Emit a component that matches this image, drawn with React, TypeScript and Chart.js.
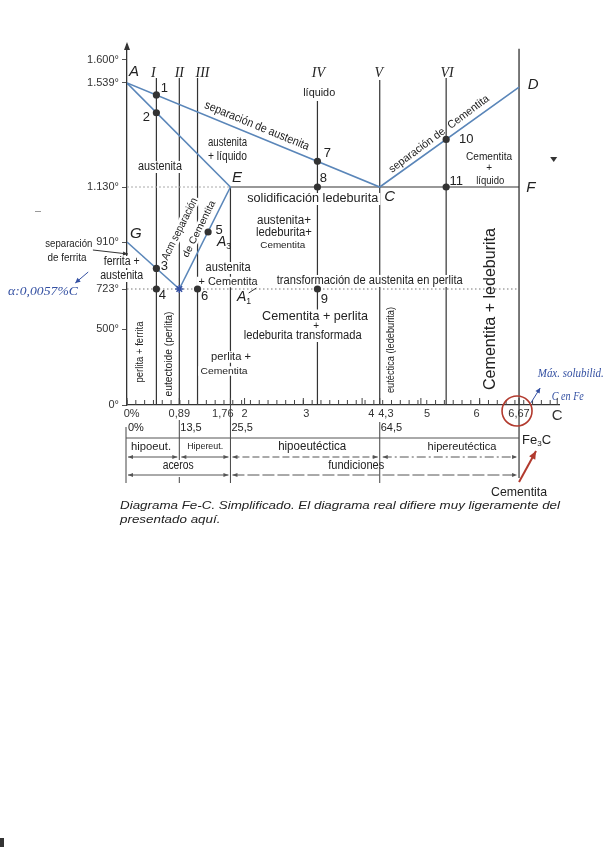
import React, { useEffect, useRef } from "react";
import { Chart, registerables } from "chart.js";

Chart.register(...registerables);

const SANS = '"Liberation Sans", Arial, Helvetica, sans-serif';
const SERIF = '"Liberation Serif", "Times New Roman", serif';
const INK = "#222";
const BLUE_LINE = "#5a86b9";
const PEN_BLUE = "#3450a2";
const RED = "#b23a2e";

// ---------------- axes ----------------
const TEMP_TICKS = [0, 500, 723, 910, 1130, 1539, 1600];
const TEMP_TICK_LABELS = ["0°", "500°", "723°", "910°", "1.130°", "1.539°", "1.600°"];
// the original (schematic) diagram is not to scale: drawing height of each temperature
const TEMP_AXIS_UNITS = [0, 76, 116, 163, 218, 322, 345];

const CARBON_TICKS = [0, 0.89, 1.76, 2, 3, 4, 4.3, 5, 6, 6.67, 7.32];
const CARBON_TICK_LABELS = ["0%", "0,89", "1,76", "2", "3", "4", "4,3", "5", "6", "6,67", "C"];
// the printed labels sit slightly off their ticks on the scan (padding with spaces)
const CARBON_LABEL_PAD_LEFT = [3, 0, 0, 0, 2, 6, 4, 4, 0, 0, 0];
const CARBON_LABEL_PAD_RIGHT = [0, 0, 5, 0, 0, 0, 0, 0, 2, 0, 0];
const CEMENTITE_PCT_C = [0, 0.89, 1.76, 4.3];
const CEMENTITE_PCT_LABELS = ["0%", "13,5", "25,5", "64,5"];

// ---------------- phase lines ----------------
const LIQUIDUS_C = [0, 4.3, 6.67]; // A - C - D
const LIQUIDUS_T = [1539, 1130, 1523];
const SOLIDUS_C = [0, 1.76]; // A - E
const SOLIDUS_T = [1539, 1130];
const ACM_C = [1.76, 0.89]; // E - S
const ACM_T = [1130, 723];
const A3_C = [0, 0.89]; // G - S
const A3_T = [910, 723];
const EUTECTIC_C = [1.76, 6.67]; // E - F
const EUTECTIC_T = [1130, 1130];
const EUTECTOID_C = [0, 6.67];
const EUTECTOID_T = [723, 723];
const GUIDE_1130_C = [0, 1.76];
const GUIDE_1130_T = [1130, 1130];
const STEEL_LIMIT_C = [1.76, 1.76];
const STEEL_LIMIT_T = [1130, 0];
const CEMENTITE_LINE_C = [6.67, 6.67];
const CEMENTITE_LINE_T = [1630, 0];

// alloys I..VI
const ALLOY_NAMES = ["I", "II", "III", "IV", "V", "VI"];
const ALLOY_C = [0.5, 0.89, 1.2, 3.24, 4.3, 5.43];
const ALLOY_TOP_T = [1552, 1552, 1552, 1468, 1547, 1552];

// numbered points
const POINT_LABELS = ["1", "2", "3", "4", "5", "6", "7", "8", "9", "10", "11"];
const POINT_C = [0.5, 0.5, 0.5, 0.5, 1.38, 1.2, 3.24, 3.24, 3.24, 5.43, 5.43];
const POINT_T = [1492, 1422, 805, 723, 950, 723, 1231, 1130, 723, 1317, 1130];
const EUTECTOID_POINT_C = [0.89];
const EUTECTOID_POINT_T = [723];

// ---------------- label layout (px offsets / positions in axis units) ----------------
const POINT_LABEL_DX = [8, -10, 8, 6, 11, 7, 10, 6, 7, 20, 10];
const POINT_LABEL_DY = [-7, 5, -2, 6, -2, 7, -8, -9, 10, 0, -6];
const ALLOY_LABEL_DX = [-3, 0, 5, 1, -1, 1];

type Lbl = {
  t: string; c: number; u: number; size: number; w?: number; rot?: number;
  bg?: boolean; italic?: boolean; serif?: boolean; color?: string;
};

const REGION_LABELS: Lbl[] = [
  { t: "austenita", c: 0.56, u: 238, size: 12, w: 44, bg: true },
  { t: "austenita", c: 1.71, u: 262, size: 12, w: 39 },
  { t: "+ líquido", c: 1.71, u: 248, size: 12, w: 39 },
  { t: "separación de austenita", c: 2.21, u: 279, size: 12, w: 112, rot: 22.3 },
  { t: "líquido", c: 3.27, u: 312, size: 11, w: 32, bg: true },
  { t: "separación de  Cementita", c: 5.31, u: 271, size: 11, w: 122, rot: -36.7 },
  { t: "Cementita", c: 6.16, u: 248, size: 10, w: 46 },
  { t: "+", c: 6.16, u: 237, size: 10 },
  { t: "líquido", c: 6.18, u: 224, size: 10, w: 28 },
  { t: "solidificación ledeburita", c: 3.16, u: 206, size: 12, w: 131, bg: true },
  { t: "austenita+", c: 2.67, u: 184, size: 12, w: 54 },
  { t: "ledeburita+", c: 2.67, u: 172, size: 12, w: 56 },
  { t: "Cementita", c: 2.65, u: 160, size: 9.5, w: 45 },
  { t: "austenita", c: 1.72, u: 137, size: 12, w: 45, bg: true },
  { t: "+ Cementita", c: 1.72, u: 123, size: 10.5, w: 59, bg: true },
  { t: "transformación de austenita en perlita", c: 4.13, u: 124, size: 12, w: 186, bg: true },
  { t: "Cementita + perlita", c: 3.2, u: 89, size: 13, w: 106, bg: true },
  { t: "+", c: 3.22, u: 79, size: 10, bg: true },
  { t: "ledeburita transformada", c: 2.99, u: 69, size: 12, w: 118, bg: true },
  { t: "perlita +", c: 1.77, u: 48, size: 11.5, w: 40, bg: true },
  { t: "Cementita", c: 1.65, u: 34, size: 9.5, w: 47, bg: true },
  { t: "perlita + ferrita", c: 0.22, u: 53, size: 11, w: 61, rot: -90 },
  { t: "eutectoide (perlita)", c: 0.71, u: 51, size: 11, w: 85, rot: -90 },
  { t: "eutéctica (ledeburita)", c: 4.49, u: 55, size: 10.5, w: 86, rot: -90 },
  { t: "Cementita + ledeburita", c: 6.18, u: 96, size: 16, w: 162, rot: -90 },
  { t: "Acm separación", c: 0.9, u: 176, size: 11, w: 68, rot: -63.4, bg: true },
  { t: "de Cementita", c: 1.23, u: 176, size: 10, w: 62, rot: -63.4, bg: true },
  { t: "separación", c: -0.99, u: 161, size: 11, w: 47 },
  { t: "de ferrita", c: -1.02, u: 147, size: 11, w: 39 },
  { t: "ferrita +", c: -0.09, u: 143, size: 12, w: 36, bg: true },
  { t: "austenita", c: -0.09, u: 129, size: 12, w: 43, bg: true },
  { t: "A", c: 0.12, u: 333, size: 15, italic: true },
  { t: "D", c: 6.91, u: 320, size: 15, italic: true },
  { t: "E", c: 1.87, u: 227, size: 15, italic: true },
  { t: "F", c: 6.87, u: 217, size: 15, italic: true },
  { t: "C", c: 4.47, u: 208, size: 15, italic: true },
  { t: "G", c: 0.15, u: 171, size: 15, italic: true },
  { t: "α:0,0057%C", c: -1.43, u: 113, size: 13, w: 70, italic: true, serif: true, color: PEN_BLUE },
  { t: "Máx. solubilid.", c: 7.55, u: 31, size: 12.5, w: 66, italic: true, serif: true, color: PEN_BLUE },
  { t: "C en Fe", c: 7.5, u: 8, size: 12.5, w: 32, italic: true, serif: true, color: PEN_BLUE },
];

function toU(t: number): number {
  const T = TEMP_TICKS;
  const U = TEMP_AXIS_UNITS;
  let i = 0;
  if (t >= T[T.length - 1]) i = T.length - 2;
  else if (t > T[0]) {
    while (t > T[i + 1]) i++;
  }
  return U[i] + ((t - T[i]) * (U[i + 1] - U[i])) / (T[i + 1] - T[i]);
}

const pts = (cs: number[], ts: number[]) => cs.map((c, i) => ({ x: c, y: toU(ts[i]) }));

function lineDs(data: any[], color: string, width: number, order: number, dash: number[] = []) {
  return {
    data,
    showLine: true,
    borderColor: color,
    borderWidth: width,
    borderDash: dash,
    pointRadius: 0,
    pointHoverRadius: 0,
    fill: false,
    tension: 0,
    order,
  };
}

function drawLabel(ctx: CanvasRenderingContext2D, l: Lbl, x: number, y: number) {
  ctx.save();
  ctx.translate(x, y);
  if (l.rot) ctx.rotate((l.rot * Math.PI) / 180);
  ctx.font = `${l.italic ? "italic " : ""}${l.size}px ${l.serif ? SERIF : SANS}`;
  ctx.textAlign = "center";
  ctx.textBaseline = "middle";
  const nat = ctx.measureText(l.t).width;
  if (l.w) {
    const sx = Math.max(0.65, Math.min(1.2, l.w / nat));
    ctx.scale(sx, 1);
  }
  if (l.bg) {
    ctx.fillStyle = "#fff";
    ctx.fillRect(-nat / 2 - 2, -l.size * 0.5, nat + 4, l.size * 1.0);
  }
  ctx.fillStyle = l.color || INK;
  ctx.fillText(l.t, 0, 0);
  ctx.restore();
}

function subText(ctx: CanvasRenderingContext2D, main: string, sub: string, x: number, y: number, size: number, italic: boolean, after = "") {
  ctx.save();
  ctx.fillStyle = INK;
  ctx.textBaseline = "middle";
  ctx.textAlign = "left";
  ctx.font = `${italic ? "italic " : ""}${size}px ${SANS}`;
  ctx.fillText(main, x, y);
  let w = ctx.measureText(main).width;
  ctx.font = `${size * 0.62}px ${SANS}`;
  ctx.fillText(sub, x + w, y + size * 0.32);
  w += ctx.measureText(sub).width;
  if (after) {
    ctx.font = `${italic ? "italic " : ""}${size}px ${SANS}`;
    ctx.fillText(after, x + w, y);
  }
  ctx.restore();
}

function arrowHead(ctx: CanvasRenderingContext2D, x1: number, y1: number, x2: number, y2: number, size = 5, half = 2) {
  const a = Math.atan2(y2 - y1, x2 - x1);
  ctx.beginPath();
  ctx.moveTo(x2, y2);
  ctx.lineTo(x2 - size * Math.cos(a) + half * Math.sin(a), y2 - size * Math.sin(a) - half * Math.cos(a));
  ctx.lineTo(x2 - size * Math.cos(a) - half * Math.sin(a), y2 - size * Math.sin(a) + half * Math.cos(a));
  ctx.closePath();
  ctx.fill();
}

function arrow(ctx: CanvasRenderingContext2D, x1: number, y1: number, x2: number, y2: number, o: { both?: boolean; dash?: number[]; color?: string; width?: number; size?: number; half?: number } = {}) {
  ctx.save();
  ctx.strokeStyle = o.color || "#555";
  ctx.fillStyle = o.color || "#555";
  ctx.lineWidth = o.width || 1;
  ctx.setLineDash(o.dash || []);
  ctx.beginPath();
  ctx.moveTo(x1, y1);
  ctx.lineTo(x2, y2);
  ctx.stroke();
  ctx.setLineDash([]);
  arrowHead(ctx, x1, y1, x2, y2, o.size || 5, o.half || 2);
  if (o.both) arrowHead(ctx, x2, y2, x1, y1, o.size || 5, o.half || 2);
  ctx.restore();
}

function vline(ctx: CanvasRenderingContext2D, x: number, y1: number, y2: number, color = "#333", w = 1.2) {
  ctx.save();
  ctx.strokeStyle = color;
  ctx.lineWidth = w;
  ctx.beginPath();
  ctx.moveTo(x, y1);
  ctx.lineTo(x, y2);
  ctx.stroke();
  ctx.restore();
}

const diagramPlugin = {
  id: "feC",
  beforeDatasetDraw(chart: any, args: any) {
    if (args.index !== 1) return;
    const ctx: CanvasRenderingContext2D = chart.ctx;
    const xs = chart.scales.x;
    const ys = chart.scales.y;
    for (const l of REGION_LABELS) drawLabel(ctx, l, xs.getPixelForValue(l.c), ys.getPixelForValue(l.u));
    ALLOY_NAMES.forEach((n, i) => {
      drawLabel(ctx, { t: n, c: 0, u: 0, size: 14, italic: true, serif: true }, xs.getPixelForValue(ALLOY_C[i]) + ALLOY_LABEL_DX[i], ys.getPixelForValue(332));
    });
    POINT_LABELS.forEach((n, i) => {
      const x = xs.getPixelForValue(POINT_C[i]) + POINT_LABEL_DX[i];
      const y = ys.getPixelForValue(toU(POINT_T[i])) + POINT_LABEL_DY[i];
      drawLabel(ctx, { t: n, c: 0, u: 0, size: 13 }, x, y);
    });
    subText(ctx, "A", "3", xs.getPixelForValue(1.53), ys.getPixelForValue(163), 14, true);
    subText(ctx, "A", "1", xs.getPixelForValue(1.87), ys.getPixelForValue(108), 14, true);
    ctx.save();
    ctx.strokeStyle = "#333";
    ctx.lineWidth = 1;
    ctx.beginPath();
    ctx.moveTo(xs.getPixelForValue(2.07), ys.getPixelForValue(112));
    ctx.lineTo(xs.getPixelForValue(2.2), ys.getPixelForValue(117));
    ctx.stroke();
    ctx.restore();
  },
  afterDraw(chart: any) {
    const ctx: CanvasRenderingContext2D = chart.ctx;
    const xs = chart.scales.x;
    const ys = chart.scales.y;
    const area = chart.chartArea;
    const B = area.bottom;
    const X = (c: number) => xs.getPixelForValue(c);

    // y axis arrow
    ctx.save();
    ctx.fillStyle = "#333";
    ctx.beginPath();
    ctx.moveTo(area.left, area.top - 3);
    ctx.lineTo(area.left - 3, area.top + 5);
    ctx.lineTo(area.left + 3, area.top + 5);
    ctx.closePath();
    ctx.fill();
    ctx.restore();

    // minor ticks on x axis (upwards)
    ctx.save();
    ctx.strokeStyle = "#444";
    ctx.lineWidth = 1;
    for (let c = 0; c <= 7.25; c += 0.15) {
      ctx.beginPath();
      ctx.moveTo(X(c), B);
      ctx.lineTo(X(c), B - 5);
      ctx.stroke();
    }
    for (const c of CARBON_TICKS) {
      ctx.beginPath();
      ctx.moveTo(X(c), B);
      ctx.lineTo(X(c), B - 7);
      ctx.stroke();
    }
    ctx.restore();

    // cementite % row
    ctx.save();
    ctx.fillStyle = INK;
    ctx.font = `11px ${SANS}`;
    ctx.textBaseline = "middle";
    ctx.textAlign = "left";
    CEMENTITE_PCT_C.forEach((c, i) => ctx.fillText(CEMENTITE_PCT_LABELS[i], X(c) + 1, B + 23));
    ctx.restore();

    // frame lines below axis
    vline(ctx, X(0) - 1, B + 22, B + 78, "#444", 1);
    vline(ctx, X(0.89), B + 15, B + 55, "#444", 1);
    vline(ctx, X(0.89), B + 72, B + 78, "#444", 1);
    vline(ctx, X(1.76), B, B + 78, "#444", 1);
    vline(ctx, X(4.3), B + 17, B + 78, "#444", 1);
    vline(ctx, X(6.67), B, B + 73, "#333", 1.2);
    ctx.save();
    ctx.strokeStyle = "#555";
    ctx.lineWidth = 1;
    ctx.beginPath();
    ctx.moveTo(X(0) - 1, B + 33);
    ctx.lineTo(X(6.67), B + 33);
    ctx.stroke();
    ctx.restore();

    const rowLbl = (t: string, c: number, dy: number, size: number, w?: number) =>
      drawLabel(ctx, { t, c: 0, u: 0, size, w }, X(c), B + dy);
    rowLbl("hipoeut.", 0.41, 42, 11.5, 40);
    rowLbl("Hipereut.", 1.33, 42, 8.5, 36);
    rowLbl("hipoeutéctica", 3.15, 42, 12, 68);
    rowLbl("hipereutéctica", 5.7, 42, 11.5, 69);
    rowLbl("aceros", 0.87, 61, 12, 31);
    rowLbl("fundiciones", 3.9, 61, 12, 56);
    subText(ctx, "Fe", "3", X(6.67) + 3, B + 35, 13, false, "C");

    arrow(ctx, X(0) + 1, B + 52, X(0.89) - 2, B + 52, { both: true });
    arrow(ctx, X(0.89) + 2, B + 52, X(1.76) - 2, B + 52, { both: true });
    arrow(ctx, X(1.76) + 2, B + 52, X(4.3) - 2, B + 52, { both: true, dash: [7, 3] });
    arrow(ctx, X(4.3) + 3, B + 52, X(6.67) - 2, B + 52, { both: true, dash: [9, 3, 2, 3] });
    arrow(ctx, X(0) + 1, B + 70, X(1.76) - 2, B + 70, { both: true });
    arrow(ctx, X(1.76) + 2, B + 70, X(6.67) - 2, B + 70, { both: true, dash: [12, 3] });

    rowLbl("Cementita", 6.67, 87, 13, 56);

    // caption
    ctx.save();
    ctx.fillStyle = INK;
    ctx.font = `italic 11.5px ${SANS}`;
    ctx.textBaseline = "middle";
    ctx.textAlign = "left";
    const cap1 = "Diagrama Fe-C. Simplificado. El diagrama real difiere muy ligeramente del";
    const w1 = ctx.measureText(cap1).width;
    ctx.save();
    ctx.translate(X(0) - 7, B + 101);
    ctx.scale(440 / w1, 1);
    ctx.fillText(cap1, 0, 0);
    ctx.restore();
    ctx.save();
    ctx.translate(X(0) - 7, B + 115);
    ctx.scale(440 / w1, 1);
    ctx.fillText("presentado aquí.", 0, 0);
    ctx.restore();
    ctx.restore();

    // separación de ferrita arrow
    arrow(ctx, X(-0.58), ys.getPixelForValue(155), X(0) + 1, ys.getPixelForValue(151), { color: "#333", size: 5, half: 2 });

    // red marks
    ctx.save();
    ctx.strokeStyle = RED;
    ctx.lineWidth = 1.6;
    ctx.beginPath();
    ctx.arc(X(6.67) - 2, B + 6, 15, 0, Math.PI * 2);
    ctx.stroke();
    ctx.restore();
    arrow(ctx, X(6.67), B + 77, X(6.67) + 17, B + 46, { color: RED, width: 2, size: 8, half: 3.5 });

    // pen annotations
    arrow(ctx, X(-0.66), ys.getPixelForValue(133), X(-0.88), ys.getPixelForValue(122), { color: PEN_BLUE, size: 5, half: 2.5 });
    arrow(ctx, X(6.87), B - 2, X(7.03), B - 17, { color: PEN_BLUE, size: 5, half: 2.5 });

    // scan specks
    ctx.save();
    ctx.fillStyle = "#333";
    ctx.beginPath();
    ctx.moveTo(X(7.2), ys.getPixelForValue(248));
    ctx.lineTo(X(7.26), ys.getPixelForValue(243));
    ctx.lineTo(X(7.32), ys.getPixelForValue(248));
    ctx.closePath();
    ctx.fill();
    ctx.fillRect(0, 838, 4, 9);
    ctx.fillStyle = "#999";
    ctx.fillRect(35, 211, 6, 1);
    ctx.restore();
  },
};

export default function App() {
  const ref = useRef<HTMLCanvasElement>(null);
  useEffect(() => {
    const canvas = ref.current!;
    const datasets: any[] = [
      {
        data: pts(EUTECTOID_POINT_C, EUTECTOID_POINT_T),
        pointStyle: "star",
        pointRadius: 4,
        borderColor: PEN_BLUE,
        backgroundColor: PEN_BLUE,
        borderWidth: 1.5,
        order: 0,
      },
      {
        data: pts(POINT_C, POINT_T),
        pointRadius: 3.6,
        backgroundColor: "#333",
        borderColor: "#333",
        borderWidth: 0,
        order: 0,
      },
      lineDs(pts(LIQUIDUS_C, LIQUIDUS_T), BLUE_LINE, 1.6, 1),
      lineDs(pts(SOLIDUS_C, SOLIDUS_T), BLUE_LINE, 1.6, 1),
      lineDs(pts(ACM_C, ACM_T), BLUE_LINE, 1.6, 1),
      lineDs(pts(A3_C, A3_T), BLUE_LINE, 1.6, 1),
      lineDs(pts(EUTECTIC_C, EUTECTIC_T), "#333", 1.2, 2),
      lineDs(pts(EUTECTOID_C, EUTECTOID_T), "#777", 1.1, 2, [1.5, 2.5]),
      lineDs(pts(GUIDE_1130_C, GUIDE_1130_T), "#aaa", 1, 2, [2, 2]),
      lineDs(pts(STEEL_LIMIT_C, STEEL_LIMIT_T), "#333", 1.2, 2),
      lineDs(pts(CEMENTITE_LINE_C, CEMENTITE_LINE_T), "#333", 1.3, 2),
      ...ALLOY_C.map((c, i) => lineDs(pts([c, c], [ALLOY_TOP_T[i], 0]), "#333", 1.2, 2)),
    ];
    const chart = new Chart(canvas, {
      type: "scatter",
      data: { datasets },
      plugins: [diagramPlugin],
      options: {
        animation: false,
        responsive: false,
        devicePixelRatio: 1,
        events: [],
        layout: { padding: { left: 0, right: 45, top: 45, bottom: 0 } },
        plugins: { legend: { display: false }, tooltip: { enabled: false } },
        scales: {
          x: {
            type: "linear",
            min: 0,
            max: 7.35,
            afterFit: (s: any) => {
              s.height = 443;
            },
            afterBuildTicks: (s: any) => {
              s.ticks = CARBON_TICKS.map((v) => ({ value: v }));
            },
            ticks: {
              autoSkip: false,
              maxRotation: 0,
              minRotation: 0,
              padding: 2,
              color: "#333",
              font: (c: any) => ({ family: SANS, size: c.index === CARBON_TICKS.length - 1 ? 15 : 11 }),
              callback: (_v: any, i: number) =>
                " ".repeat(CARBON_LABEL_PAD_LEFT[i]) + CARBON_TICK_LABELS[i] + " ".repeat(CARBON_LABEL_PAD_RIGHT[i]),
            },
            grid: { display: false, drawTicks: false },
            border: { display: true, color: "#333", width: 1.3 },
          },
          y: {
            type: "linear",
            min: 0,
            max: 360,
            afterFit: (s: any) => {
              s.width = 127;
            },
            afterBuildTicks: (s: any) => {
              s.ticks = TEMP_TICKS.map((t) => ({ value: toU(t) }));
            },
            ticks: {
              autoSkip: false,
              padding: 3,
              color: "#333",
              font: { family: SANS, size: 11 },
              callback: (_v: any, i: number) => TEMP_TICK_LABELS[i],
            },
            grid: { display: true, drawOnChartArea: false, drawTicks: true, tickLength: 5, color: "#555", tickColor: "#555" },
            border: { display: true, color: "#333", width: 1.3 },
          },
        },
      } as any,
    });
    return () => chart.destroy();
  }, []);
  return (
    <div style={{ position: "absolute", left: 0, top: 0, width: 604, height: 848, background: "#fff" }}>
      <canvas ref={ref} width={604} height={848} style={{ display: "block", width: 604, height: 848 }} />
    </div>
  );
}
